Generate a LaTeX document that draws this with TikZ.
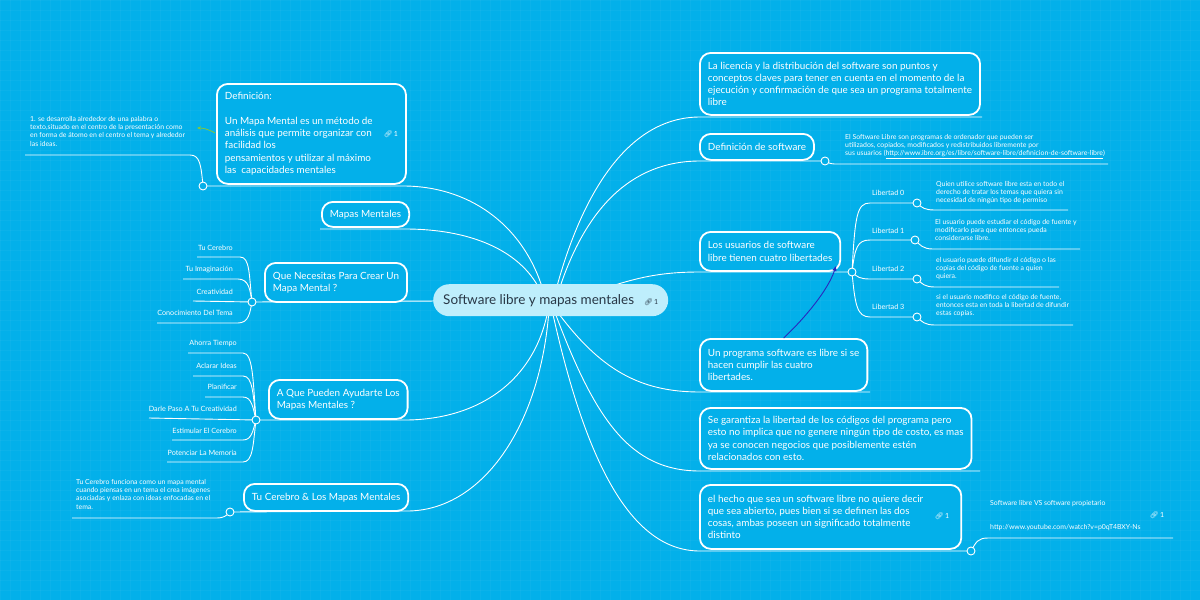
\documentclass[tikz,border=0pt]{standalone}
\usepackage{fontspec}
\setmainfont{Lato}
\newfontfamily\emo{Noto Emoji}
\usetikzlibrary{arrows.meta}
\definecolor{bgc}{RGB}{3,176,234}
\definecolor{ctrfill}{RGB}{190,238,252}
\definecolor{ctext}{RGB}{40,55,70}
\definecolor{arrowblue}{RGB}{40,40,190}
\definecolor{arrowgreen}{RGB}{130,200,60}
\pgfdeclarelayer{bg}\pgfdeclarelayer{lines}\pgfsetlayers{bg,lines,main}
\newcommand\lk{{\emo 🔗}\,1}
\tikzset{
 box/.style={draw=white, line width=1.8pt, rounded corners=11pt, fill=bgc, text=white, align=left, anchor=north west, inner xsep=8pt, inner ysep=0pt, font=\fontsize{9.9}{12.3}\selectfont},
 conn/.style={white, line width=0.9pt},
 knot/.style={circle, draw=white, fill=bgc, line width=0.9pt, minimum size=8pt, inner sep=0pt},
 lbl/.style={text=white, inner sep=0pt, font=\fontsize{7.2}{8.5}\selectfont},
 note/.style={text=white, inner sep=0pt, align=left, anchor=north west, font=\fontsize{6.9}{8.3}\selectfont},
 linkic/.style={text=white, inner sep=0pt, font=\fontsize{7}{8}\selectfont},
}
\begin{document}
\begin{tikzpicture}[x=1pt,y=-1pt]
\useasboundingbox (0,0) rectangle (1200,600);
\begin{pgfonlayer}{bg}
\fill[bgc] (0,0) rectangle (1200,600);
\foreach \i in {0,10,...,1200} \draw[white, opacity=0.035, line width=0.5pt] (\i,0) -- (\i,600);
\foreach \j in {0,10,...,600} \draw[white, opacity=0.035, line width=0.5pt] (0,\j) -- (1200,\j);
\end{pgfonlayer}

% central node
\node[fill=ctrfill, rounded corners=16pt, minimum height=32pt, anchor=north west, inner xsep=10pt, inner ysep=0pt, text=ctext, font=\fontsize{13.5}{15}\selectfont, align=left] (ctr) at (433,284) {Software libre y mapas mentales\hspace*{10pt}{\fontsize{7}{8}\selectfont\lk}};

% left boxes
\node[box, minimum height=100pt] (def) at (216,83) {Definición:\\[12.3pt]Un Mapa Mental es un método de\\análisis que permite organizar con\hspace*{12pt}{\fontsize{7}{8}\selectfont\lk}\\facilidad los\\pensamientos y utilizar al máximo\\las\enspace capacidades mentales};
\node[box, minimum height=25pt] (mm) at (321,201) {Mapas Mentales};
\node[box, minimum height=39pt] (qn) at (264,262) {Que Necesitas Para Crear Un\\Mapa Mental ?};
\node[box, minimum height=39pt] (aq) at (268,379) {A Que Pueden Ayudarte Los\\Mapas Mentales ?};
\node[box, minimum height=27pt] (tc) at (243,483) {Tu Cerebro \& Los Mapas Mentales};

% right boxes
\node[box, minimum height=62pt] (lic) at (699,52) {La licencia y la distribución del software son puntos y\\conceptos claves para tener en cuenta en el momento de la\\ejecución y confirmación de que sea un programa totalmente\hspace*{6pt}\\libre};
\node[box, minimum height=26pt] (dsw) at (699,133) {Definición de software};
\node[box, minimum height=39pt] (usu) at (699,231) {Los usuarios de software\\libre tienen cuatro libertades};
\node[box, minimum height=52pt] (prog) at (699,338) {Un programa software es libre si se\\hacen cumplir las cuatro\\libertades.};
\node[box, minimum height=61pt] (gar) at (699,407) {Se garantiza la libertad de los códigos del programa pero\\esto no implica que no genere ningún tipo de costo, es mas\hspace*{4pt}\\ya se conocen negocios que posiblemente estén\\relacionados con esto.};
\node[box, minimum height=64pt] (hec) at (699,484) {el hecho que sea un software libre no quiere decir\hspace*{30pt}\\que sea abierto, pues bien si se definen las dos\\cosas, ambas poseen un significado totalmente\\distinto};
\node[linkic] (heclk) at (942,516) {\lk};

% knots
\node[knot] (k1) at (203,186) {};
\node[knot] (k3) at (252,302) {};
\node[knot] (k4) at (256,420) {};
\node[knot] (k5) at (230,512) {};
\node[knot] (k2) at (825,161) {};
\node[knot] (k6) at (852,272) {};
\node[knot] (m0) at (917,203) {};
\node[knot] (m1) at (915,240) {};
\node[knot] (m2) at (917,279) {};
\node[knot] (m3) at (917,317) {};
\node[knot] (k7) at (971,551) {};

% left labels
\node[lbl, anchor=east] (t1) at (233,248) {Tu Cerebro};
\node[lbl, anchor=east] (t2) at (233,270) {Tu Imaginación};
\node[lbl, anchor=east] (t3) at (233,292) {Creatividad};
\node[lbl, anchor=east] (t4) at (233,313) {Conocimiento Del Tema};
\node[lbl, anchor=east] (a1) at (237,343) {Ahorra Tiempo};
\node[lbl, anchor=east] (a2) at (237,366) {Aclarar Ideas};
\node[lbl, anchor=east] (a3) at (237,387) {Planificar};
\node[lbl, anchor=east] (a4) at (237,409) {Darle Paso A Tu Creatividad};
\node[lbl, anchor=east] (a5) at (237,431) {Estimular El Cerebro};
\node[lbl, anchor=east] (a6) at (237,453) {Potenciar La Memoria};

% libertad labels
\node[lbl, anchor=west] (l0) at (872,193) {Libertad 0};
\node[lbl, anchor=west] (l1) at (872,231) {Libertad 1};
\node[lbl, anchor=west] (l2) at (872,269) {Libertad 2};
\node[lbl, anchor=west] (l3) at (872,307) {Libertad 3};

% notes
\node[note] (ndef) at (30,116) {1. se desarrolla alrededor de una palabra o\\texto,situado en el centro de la presentación como\\en forma de átomo en el centro el tema y alrededor\\las ideas.};
\node[note] (ntc) at (76,479) {Tu Cerebro funciona como un mapa mental\\cuando piensas en un tema el crea imágenes\\asociadas y enlaza con ideas enfocadas en el\\tema.};
\node[note] (ndsw) at (845,134) {El Software Libre son programas de ordenador que pueden ser\\utilizados, copiados, modificados y redistribuidos libremente por\\sus usuarios (\underline{http://www.ibre.org/es/libre/software-libre/definicion-de-software-libre})};
\node[note] (n0) at (936,181) {Quien utilice software libre esta en todo el\\derecho de tratar los temas que quiera sin\\necesidad de ningún tipo de permiso};
\node[note] (n1) at (935,219) {El usuario puede estudiar el código de fuente y\\modificarlo para que entonces pueda\\considerarse libre.};
\node[note] (n2) at (936,257) {el usuario puede difundir el código o las\\copias del código de fuente a quien\\quiera.};
\node[note] (n3) at (936,294) {si el usuario modifico el código de fuente,\\entonces esta en toda la libertad de difundir\\estas copias.};
\node[note] (nyt) at (990,500) {Software libre VS software propietario\\[16pt]http://www.youtube.com/watch?v=p0qT4BXY-Ns};
\node[linkic] (ytlk) at (1157,515) {\lk};

% named free ends inside the centre
\coordinate (cA) at (543,290);
\coordinate (cB) at (540,290);
\coordinate (cC) at (548,310);
\coordinate (cD) at (549,310);
\coordinate (cE) at (556,290);
\coordinate (cF) at (559,290);
\coordinate (cG) at (600,290);
\coordinate (cH) at (556,310);
\coordinate (cI) at (554,310);
\coordinate (cJ) at (552,310);
\coordinate (cW) at (440,301);
\coordinate (g0) at (215,133);
\coordinate (g1) at (197,128);
\coordinate (usutip) at (836,266);

\begin{pgfonlayer}{lines}
% centre to left
\draw[conn] (k1.center) -- (405,186) .. controls (475,187) and (525,230) .. (cA);
\draw[conn] (320,229) -- (405,229) .. controls (470,229) and (520,250) .. (cB);
\draw[conn] (k3.center) -- (cW);
\draw[conn] (k4.center) -- (407,420) .. controls (480,419) and (535,380) .. (cC);
\draw[conn] (k5.center) -- (407,511) .. controls (480,511) and (540,430) .. (cD);
% centre to right
\draw[conn] (cE) .. controls (580,200) and (625,117) .. (700,117) -- (982,117);
\draw[conn] (cF) .. controls (585,210) and (630,161) .. (700,161) -- (k2.center);
\draw[conn] (cG) .. controls (640,276) and (665,272) .. (700,272) -- (k6.center);
\draw[conn] (cH) .. controls (600,370) and (640,392) .. (700,392) -- (870,392);
\draw[conn] (cI) .. controls (595,420) and (630,471) .. (700,471) -- (980,471);
\draw[conn] (cJ) .. controls (585,460) and (630,551) .. (700,551) -- (k7.center);
% left sub-branches
\draw[conn] (k3.center) .. controls (249,275) and (250,257) .. (240,257) -- (197,257);
\draw[conn] (k3.center) .. controls (250,290) and (249,279) .. (238,279) -- (183,279);
\draw[conn] (k3.center) -- (193,301);
\draw[conn] (k3.center) .. controls (250,312) and (249,323) .. (238,323) -- (157,323);
\draw[conn] (k4.center) .. controls (253,380) and (253,353) .. (243,353) -- (188,353);
\draw[conn] (k4.center) .. controls (253,395) and (253,376) .. (243,376) -- (193,376);
\draw[conn] (k4.center) .. controls (253,408) and (252,397) .. (243,397) -- (205,397);
\draw[conn] (k4.center) -- (149,418);
\draw[conn] (k4.center) .. controls (253,430) and (252,440) .. (243,440) -- (172,440);
\draw[conn] (k4.center) .. controls (253,445) and (253,462) .. (243,462) -- (167,462);
\draw[conn] (k1.center) .. controls (201,165) and (200,155) .. (190,155) -- (25,155);
\draw[conn] (k5.center) .. controls (226,516) and (224,518) .. (216,518) -- (72,518);
% right sub-branches
\draw[conn] (k2.center) .. controls (830,164) and (832,164) .. (838,164) -- (1108,164);
\draw[conn] (k6.center) .. controls (855,215) and (857,203) .. (870,203) -- (m0.center);
\draw[conn] (k6.center) .. controls (855,248) and (857,240) .. (870,240) -- (m1.center);
\draw[conn] (k6.center) .. controls (857,277) and (860,279) .. (870,279) -- (m2.center);
\draw[conn] (k6.center) .. controls (855,305) and (857,317) .. (870,317) -- (m3.center);
\draw[conn] (m0.center) .. controls (922,208) and (925,210) .. (935,210) -- (1068,210);
\draw[conn] (m1.center) .. controls (920,245) and (923,249) .. (933,249) -- (1080,249);
\draw[conn] (m2.center) .. controls (922,284) and (925,287) .. (935,287) -- (1059,287);
\draw[conn] (m3.center) .. controls (922,322) and (925,325) .. (935,325) -- (1073,325);
\draw[conn] (k7.center) .. controls (976,542) and (978,538) .. (988,538) -- (1173,538);
\end{pgfonlayer}

% arrows
\draw[arrowblue, line width=0.9pt, -{Triangle[length=5pt,width=4pt]}] (prog.north) .. controls (805,318) and (828,290) .. (usutip);
\draw[arrowgreen, line width=0.8pt, -{Stealth[length=4pt,width=3.5pt]}] (g0) .. controls (208,129) and (203,128) .. (g1);
\end{tikzpicture}
\end{document}
